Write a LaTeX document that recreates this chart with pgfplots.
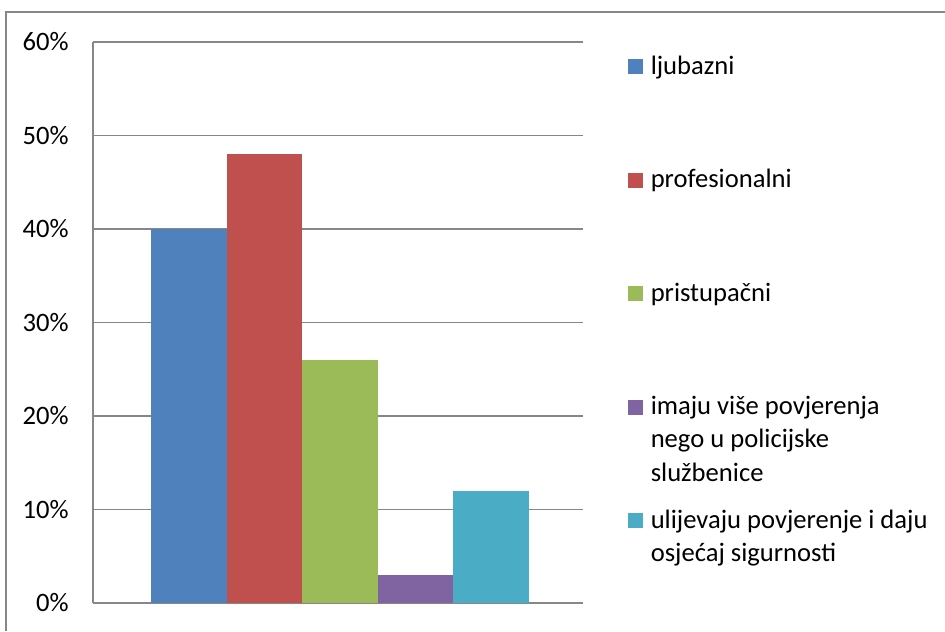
\documentclass[border=0pt]{standalone}
\usepackage{pgfplots}
\pgfplotsset{compat=1.18}
\usepackage{fontspec}
\setmainfont{Carlito}
\definecolor{cBlue}{HTML}{4F81BD}
\definecolor{cRed}{HTML}{C0504D}
\definecolor{cGreen}{HTML}{9BBB59}
\definecolor{cPurple}{HTML}{8064A2}
\definecolor{cCyan}{HTML}{4BACC6}
\definecolor{cGrid}{HTML}{878787}
\begin{document}
\begin{tikzpicture}
\begin{axis}[
  at={(46.5pt,14pt)}, anchor=south west,
  scale only axis, width=245pt, height=280.5pt,
  xmin=-0.5, xmax=0.5, ymin=0, ymax=60,
  ybar=0pt, bar width=37.8pt,
  axis x line=bottom, axis y line=left,
  axis line style={-, draw=cGrid, line width=0.7pt},
  xtick=\empty,
  ytick={0,10,...,60},
  major tick length=0pt,
  ymajorgrids, major grid style={draw=cGrid, line width=0.7pt},
  yticklabel={\pgfmathprintnumber{\tick}\%},
  /pgf/number format/assume math mode=true,
  yticklabel style={font=\fontsize{13.3pt}{16pt}\selectfont, inner sep=0pt, xshift=-12pt, anchor=east},
  legend cell align=left,
  legend style={
    at={(1.0918,0.9786)}, anchor=north west,
    draw=none, fill=none, inner sep=0pt, column sep=4pt, row sep=0pt,
    font=\fontsize{13.3pt}{16.6pt}\selectfont,
    cells={anchor=base west},
    nodes={inner sep=0pt, text width=150pt, align=flush left, text height=10pt, text depth=46.7pt},
  },
  legend image code/.code={\fill[#1] (0pt,0pt) rectangle (7.2pt,7.5pt);},
]
\addplot[fill=cBlue, draw=none] coordinates {(0.004,40)};
\addlegendentry{ljubazni}
\addplot[fill=cRed, draw=none] coordinates {(0.004,48)};
\addlegendentry{profesionalni}
\addplot[fill=cGreen, draw=none] coordinates {(0.004,26)};
\addlegendentry{pristupačni}
\addplot[fill=cPurple, draw=none] coordinates {(0.004,3)};
\addlegendentry{imaju više povjerenja\\nego u policijske\\službenice}
\addplot[fill=cCyan, draw=none] coordinates {(0.004,12)};
\addlegendentry{ulijevaju povjerenje i daju\\osjećaj sigurnosti}
\end{axis}
\draw[cGrid, line width=0.8pt] (3pt,0pt) -- (3pt,309.5pt) -- (472.5pt,309.5pt);
\pgfresetboundingbox
\path[use as bounding box] (0,0) rectangle (472.5pt,315.5pt);
\end{tikzpicture}
\end{document}
